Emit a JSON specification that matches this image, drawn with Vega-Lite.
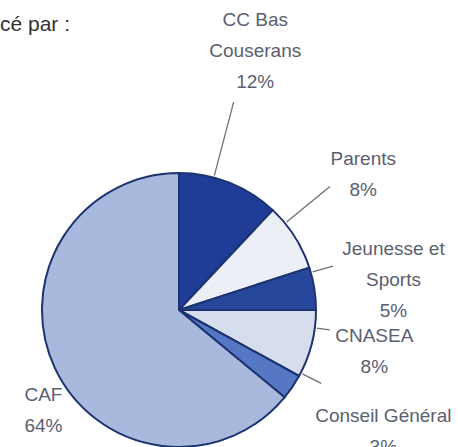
{
  "$schema": "https://vega.github.io/schema/vega-lite/v6.json",
  "width": 358,
  "height": 620,
  "padding": 0,
  "background": "white",
  "title": {"text": "cé par :", "anchor": "start", "frame": "group", "fontSize": 21, "font": "Liberation Sans", "fontWeight": "normal", "color": "#333333", "baseline": "top", "offset": -35},
  "data": {"values": [
    {"name": "CC Bas\nCouserans", "share": 0.12, "order": 1},
    {"name": "Parents", "share": 0.08, "order": 2},
    {"name": "Jeunesse et\nSports", "share": 0.05, "order": 3},
    {"name": "CNASEA", "share": 0.08, "order": 4},
    {"name": "Conseil Général", "share": 0.03, "order": 5},
    {"name": "CAF", "share": 0.64, "order": 6}
  ]},
  "transform": [
    {"stack": "share", "groupby": [], "sort": [{"field": "order", "order": "ascending"}], "as": ["t0", "t1"]},
    {"calculate": "(datum.t0 + datum.t1) / 2", "as": "mid"},
    {"calculate": "datum.name + '\\n' + format(datum.share, '.0%')", "as": "label"}
  ],
  "layer": [
    {
      "mark": {"type": "arc", "outerRadius": 137, "stroke": "#1c3370", "strokeWidth": 2},
      "encoding": {
        "theta": {"field": "t0", "type": "quantitative", "scale": {"domain": [0, 1]}},
        "theta2": {"field": "t1"},
        "color": {"field": "name", "type": "nominal", "legend": null,
          "scale": {"domain": ["CC Bas\nCouserans", "Parents", "Jeunesse et\nSports", "CNASEA", "Conseil Général", "CAF"],
                    "range": ["#1f3d96", "#eceff6", "#27479d", "#d6deee", "#5677c4", "#a8b9dd"]}}
      }
    },
    {
      "transform": [{"filter": "datum.name != 'CAF'"}],
      "mark": {"type": "arc", "fill": null, "stroke": "#6e7076", "strokeWidth": 1.3, "thetaOffset": -0.12, "theta2Offset": -0.12},
      "encoding": {
        "theta": {"field": "mid", "type": "quantitative", "scale": {"domain": [0, 1]}},
        "theta2": {"field": "mid"},
        "radius": {"field": "order", "type": "quantitative", "scale": {"type": "linear", "domain": [1, 2, 3, 4, 5], "range": [215, 195, 160, 152, 160]}},
        "radius2": {"value": 139}
      }
    },
    {
      "mark": {"type": "text", "baseline": "middle", "lineBreak": "\n", "fontSize": 19, "font": "Liberation Sans", "color": "#5a6070", "lineHeight": 31, "thetaOffset": -0.12},
      "encoding": {
        "theta": {"field": "mid", "type": "quantitative", "scale": {"domain": [0, 1]}},
        "radius": {"field": "order", "type": "quantitative", "scale": {"type": "linear", "domain": [1, 2, 3, 4, 5, 6], "range": [300, 238, 223, 197, 230, 160]}},
        "text": {"field": "label", "type": "nominal"}
      }
    }
  ],
  "resolve": {"scale": {"radius": "independent"}}
}
